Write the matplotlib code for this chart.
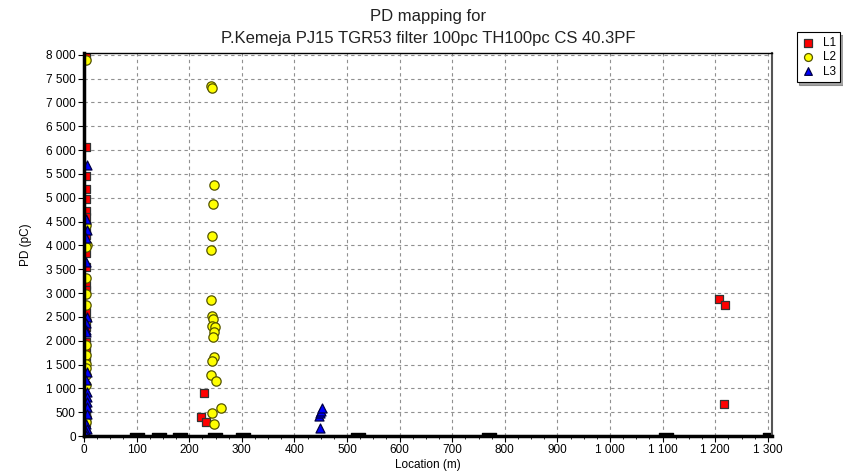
import matplotlib
matplotlib.use("Agg")
import matplotlib.pyplot as plt
from matplotlib.ticker import FuncFormatter, MultipleLocator
import numpy as np

plt.rcParams['font.family'] = ['Liberation Sans', 'DejaVu Sans']

title = "PD mapping for\nP.Kemeja PJ15 TGR53 filter 100pc TH100pc CS 40.3PF"
x_label = "Location (m)"
y_label = "PD (pC)"
series_names = ["L1", "L2", "L3"]

# L1 (red squares)
l1_x = [4, 4, 4, 4, 4, 4, 4, 4, 4, 4, 4, 4, 4, 4, 4, 4, 4, 4, 4, 4, 4, 4,
        228, 223, 232, 1208, 1218, 1216]
l1_y = [7950, 6060, 5450, 5180, 4980, 4730, 4600, 4360, 4220, 3840, 3550, 3170,
        3060, 2610, 2290, 1980, 1800, 1630, 540, 435, 345, 295,
        910, 405, 300, 2880, 2740, 666]

# L2 (yellow circles)
l2_x = [4, 5, 4, 4, 4, 4, 4, 4, 4, 4, 4, 4, 4, 4, 4, 4,
        241, 244, 247, 245, 243, 241, 241, 243, 245, 244, 249, 248, 246,
        247, 244, 241, 250, 243, 260, 248]
l2_y = [7900, 4000, 4430, 3970, 3310, 2990, 2750, 2430, 1910, 1700, 1520, 1420,
        1280, 1070, 390, 300,
        7350, 7300, 5274, 4869, 4203, 3902, 2851, 2515, 2446, 2305, 2290, 2185,
        2080, 1654, 1576, 1275, 1149, 492, 588, 260]

# L3 (blue triangles)
l3_x = [5, 4, 5, 4, 4, 5, 4, 4, 4, 5, 4, 6, 5, 6, 5, 5, 4, 5, 4, 4,
        446, 448, 450, 453, 449]
l3_y = [5690, 4550, 4320, 4150, 3660, 2500, 2380, 2220, 2185, 1345, 1170, 925,
        820, 714, 609, 470, 260, 155, 84, 30,
        430, 490, 530, 590, 170]

# joint markers on the cable (black)
joint_x = [100, 143, 183, 249, 303, 520, 770, 1107, 1305]
joint_y = [0, 0, 0, 0, 0, 0, 0, 0, 0]

fig = plt.figure(figsize=(8.43, 4.76), dpi=100)
ax = fig.add_axes([0.0997, 0.084, 0.8161, 0.805])

ax.set_xlim(0, 1308)
ax.set_ylim(0, 8040)

ax.grid(True, which='major', linestyle=(0, (3, 3)), color='#909090', linewidth=0.8)
ax.set_axisbelow(True)

rect = [(-1, -0.5), (1, -0.5), (1, 0.5), (-1, 0.5), (-1, -0.5)]
ax.scatter(joint_x, joint_y, marker=rect, s=95, color='black', zorder=3, clip_on=True)

ax.scatter(l1_x, l1_y, marker='s', s=38, facecolor='#ff0000', edgecolor='#333333',
           linewidth=0.9, zorder=4, label=series_names[0], clip_on=True)
ax.scatter(l2_x, l2_y, marker='o', s=45, facecolor='#ffff00', edgecolor='#555500',
           linewidth=0.9, zorder=4, label=series_names[1], clip_on=True)
ax.scatter(l3_x, l3_y, marker='^', s=42, facecolor='#0000ff', edgecolor='#000044',
           linewidth=0.9, zorder=4, label=series_names[2], clip_on=True)

ax.xaxis.set_major_locator(MultipleLocator(100))
ax.xaxis.set_minor_locator(MultipleLocator(25))
ax.yaxis.set_major_locator(MultipleLocator(500))

fmt = FuncFormatter(lambda v, p: f"{int(round(v)):,}".replace(",", " "))
ax.xaxis.set_major_formatter(fmt)
ax.yaxis.set_major_formatter(fmt)

ax.tick_params(axis='both', which='major', labelsize=8.5, length=4, width=0.8,
               colors='black', pad=2)
ax.tick_params(axis='x', which='minor', length=2, width=0.6)

ax.spines['left'].set_linewidth(2.5)
ax.spines['bottom'].set_linewidth(2.5)
ax.spines['top'].set_linewidth(1.0)
ax.spines['right'].set_linewidth(1.5)
ax.spines['right'].set_color('#555555')
for sp in ax.spines.values():
    sp.set_zorder(5)

ax.set_xlabel(x_label, fontsize=8.5, labelpad=2)
ax.set_ylabel(y_label, fontsize=8.5, labelpad=10)
ax.set_title(title, fontsize=12, pad=7, color='#222222', linespacing=1.6)

leg = fig.legend(loc='upper right', bbox_to_anchor=(1.004, 0.945), fontsize=8.5,
                 frameon=True, fancybox=False, shadow=True, edgecolor='black',
                 handletextpad=0.6, borderpad=0.4, labelspacing=0.2,
                 handlelength=1.2, markerscale=0.85)
leg.get_frame().set_linewidth(0.8)

fig.savefig("out.png", dpi=100)
